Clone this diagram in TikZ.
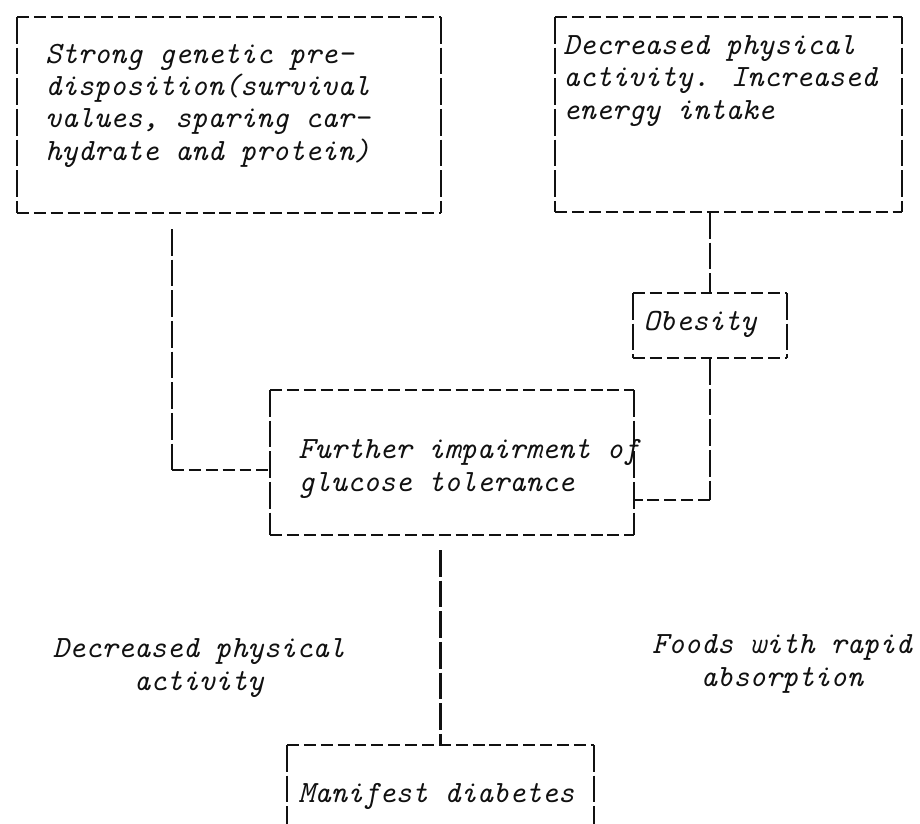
\documentclass[tikz,border=0pt]{standalone}
\usepackage{fontspec}
\usepackage{tikz}
\usetikzlibrary{positioning,calc}
\definecolor{ink}{HTML}{111111}
\tikzset{
  frame/.style={draw=none, inner sep=0pt, outer sep=0pt},
  txt/.style={inner sep=0pt, anchor=base west, align=left, text=ink,
    font=\ttfamily\itshape\fontsize{22}{22.8}\selectfont},
  hdash/.style={draw=ink, line width=1.6pt, dash pattern=on 8.5pt off 3.5pt},
  vdash/.style={draw=ink, line width=1.6pt, dash pattern=on 19pt off 2.8pt},
}
\newcommand\dashframe[1]{%
  \draw[hdash] (#1.north west) -- (#1.north east) (#1.south west) -- (#1.south east);
  \draw[vdash] (#1.north west) -- (#1.south west) (#1.north east) -- (#1.south east);}

\begin{document}
\begin{tikzpicture}[x=0.025cm,y=-0.025cm]
  \clip (0,0) rectangle (920,823);
  \fill[white] (0,0) rectangle (920,823);
  % boxes
  \node[frame, minimum width=424*0.025cm, minimum height=196*0.025cm] (gen) at (229,115) {};
  \node[frame, minimum width=347*0.025cm, minimum height=195*0.025cm] (act) at (728.5,114.5) {};
  \node[frame, minimum width=154*0.025cm, minimum height=65*0.025cm] (obe) at (710,325.5) {};
  \node[frame, minimum width=364*0.025cm, minimum height=145*0.025cm] (fur) at (452,462.5) {};
  \node[frame, minimum width=307*0.025cm, minimum height=105*0.025cm] (man) at (440.5,797.5) {};
  \foreach \b in {gen,act,obe,fur,man} \dashframe{\b};
  % texts (base = last line)
  \node[txt] (genT) at (45,160) {Strong genetic pre-\\disposition(survival\\values, sparing car-\\hydrate and protein)};
  \node[txt] (actT) at (563,119) {Decreased physical\\activity. Increased\\energy intake};
  \node[txt] (obeT) at (643,330) {Obesity};
  \node[txt] (furT) at (298,491) {Further impairment of\\glucose tolerance};
  \node[txt] (manT) at (298,802) {Manifest diabetes};
  \node[txt, anchor=base, align=center] (leftT) at (199,690) {Decreased physical\\activity};
  \node[txt, anchor=base, align=center] (rightT) at (782,686) {Foods with rapid\\absorption};
  % connectors
  \coordinate (k1) at (172,470);
  \coordinate (k2) at (710,500);
  \draw[vdash, shorten <=0.4cm] (gen.south -| k1) -- (k1);
  \draw[hdash] (k1) -- (k1 -| fur.west);
  \draw[vdash] (act.south -| k2) -- (obe.north -| k2);
  \draw[vdash] (obe.south -| k2) -- (k2);
  \draw[hdash] (k2) -- (k2 -| fur.east);
  \draw[vdash, shorten <=0.375cm] (fur.south -| man.north) -- (man.north);
\end{tikzpicture}
\end{document}
